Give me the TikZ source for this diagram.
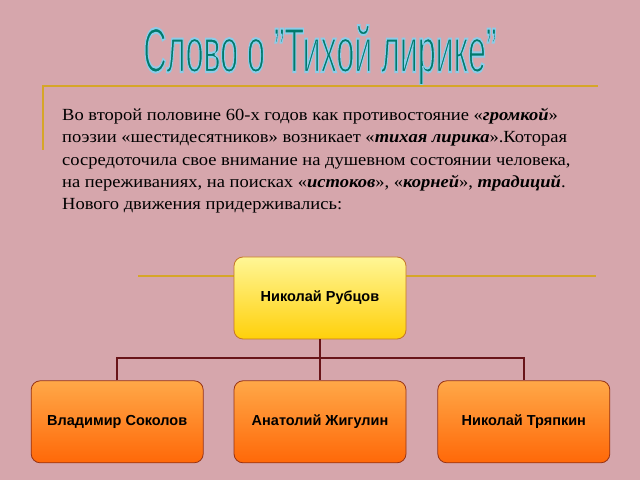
\documentclass[tikz,border=0pt]{standalone}
\usepackage{fontspec}
\setmainfont{Liberation Serif}[FakeStretch=1.09]
\setsansfont{Liberation Sans}
\usetikzlibrary{positioning,calc}
\definecolor{bgpink}{RGB}{214,166,172}
\definecolor{gold}{RGB}{214,166,40}
\definecolor{wire}{RGB}{105,20,25}
\definecolor{titleteal}{RGB}{0,122,108}
\newcommand{\edgeon}{\special{pdf:literal 2 Tr 2 w 0.55 0.80 0.91 RG}}
\newcommand{\edgeoff}{\special{pdf:literal 0 Tr}}
\tikzset{
  head/.style={draw={rgb,255:red,196;green,118;blue,40}, line width=0.8pt,
    top color={rgb,255:red,255;green,246;blue,150}, bottom color={rgb,255:red,255;green,208;blue,10},
    rounded corners=9pt, minimum width=172pt, minimum height=82pt,
    font=\sffamily\bfseries\fontsize{14.5}{16}\selectfont},
  poet/.style={draw={rgb,255:red,150;green,50;blue,20}, line width=0.8pt,
    top color={rgb,255:red,255;green,168;blue,72}, bottom color={rgb,255:red,255;green,104;blue,8},
    rounded corners=9pt, minimum width=172pt, minimum height=82pt,
    font=\sffamily\bfseries\fontsize{14.5}{16}\selectfont},
  rule/.style={gold, line width=1.7pt},
  conn/.style={wire, line width=2.4pt},
}

\begin{document}
\begin{tikzpicture}[x=1pt, y=1pt, node distance=41pt and 30pt]
\useasboundingbox[fill=bgpink] (0,0) rectangle (640,480);

%% ---- заголовок
\node[anchor=base, inner sep=0pt] (title) at (320,408)
  {\scalebox{0.51}[1]{\sffamily\fontsize{63}{63}\selectfont\color{titleteal}\edgeon Слово о "Тихой лирике"\edgeoff}};

%% ---- золотые линии
\coordinate (ra) at (42,394);  \coordinate (rb) at (598,394);
\coordinate (rc) at (43,330);
\draw[rule] (ra) -- (rb);
\draw[rule] ($(ra)+(1,0)$) -- (rc);
\coordinate (rd) at (138,204);  \coordinate (re) at (596,204);
\draw[rule] (rd) -- (re);

%% ---- текст
\node[anchor=north west, align=left, inner sep=0pt,
      font=\fontsize{17}{22.3}\selectfont] (intro) at (62,372)
  {Во второй половине 60-х годов как противостояние «\textbf{\textit{громкой}}»\\
   поэзии «шестидесятников» возникает «\textbf{\textit{тихая лирика}}».Которая\\
   сосредоточила свое внимание на душевном состоянии человека,\\
   на переживаниях, на поисках «\textbf{\textit{истоков}}», «\textbf{\textit{корней}}», \textbf{\textit{традиций}}.\\
   Нового движения придерживались:};

%% ---- схема
\node[head] (rub) at (320,182) {Николай Рубцов};
\node[poet, below=of rub] (zhig) {Анатолий Жигулин};
\node[poet, left=of zhig] (sok) {Владимир Соколов};
\node[poet, right=31pt of zhig] (tryap) {Николай Тряпкин};

\coordinate (fork) at ($(rub.south)!0.46!(zhig.north)$);
\draw[conn] (rub.south) -- (zhig.north);
\draw[conn] (sok.north) |- (fork) -| (tryap.north);
\end{tikzpicture}
\end{document}
